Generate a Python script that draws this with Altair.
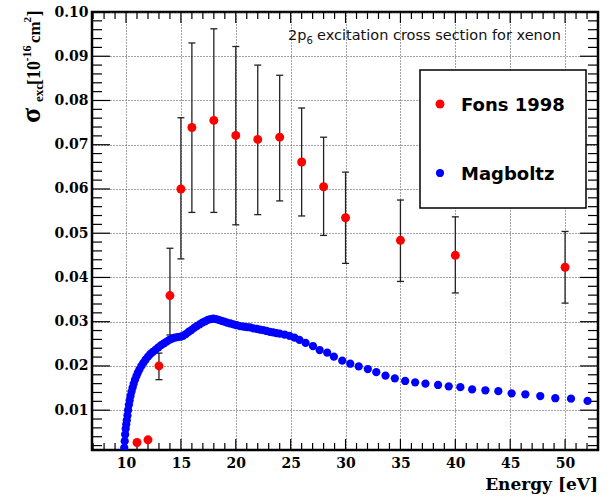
import altair as alt
import pandas as pd

# Fons 1998 measurements: energy [eV], cross section [1e-16 cm^2], error-bar ends
fons_energy = [11, 12, 13, 14, 15, 16, 18, 20, 22, 24, 26, 28, 30, 35, 40, 50]
fons_sigma = [0.0027, 0.0033, 0.0200, 0.0359, 0.0600, 0.0739, 0.0755, 0.0721,
              0.0712, 0.0717, 0.0661, 0.0605, 0.0535, 0.0484, 0.0450, 0.0423]
fons_low = [0.0027, 0.0033, 0.0169, 0.0270, 0.0442, 0.0547, 0.0547, 0.0519,
            0.0542, 0.0573, 0.0539, 0.0495, 0.0432, 0.0391, 0.0365, 0.0342]
fons_high = [0.0027, 0.0033, 0.0229, 0.0466, 0.0761, 0.0930, 0.0962, 0.0922,
             0.0880, 0.0857, 0.0783, 0.0717, 0.0638, 0.0575, 0.0537, 0.0504]

# Magboltz calculation
mag_energy = [9.80, 9.84, 9.88, 9.92, 9.97, 10.02, 10.07, 10.13, 10.19, 10.26,
              10.33, 10.41, 10.50, 10.60, 10.70, 10.82, 10.95, 11.08, 11.22, 11.40,
              11.58, 11.78, 12.00, 12.22, 12.45, 12.70, 12.95, 13.20, 13.45, 13.70,
              13.95, 14.20, 14.45, 14.70, 14.95, 15.20, 15.45, 15.70, 15.95, 16.20,
              16.45, 16.70, 16.95, 17.20, 17.45, 17.70, 17.95, 18.20, 18.45, 18.70,
              18.95, 19.20, 19.50, 19.80, 20.10, 20.40, 20.70, 21.00, 21.30, 21.60,
              21.90, 22.20, 22.50, 22.80, 23.10, 23.40, 23.70, 24.00, 24.45, 24.90,
              25.35, 25.80, 26.36, 27.03, 27.64, 28.33, 28.94, 29.70, 30.43, 31.20,
              32.03, 32.80, 33.64, 34.49, 35.43, 36.34, 37.28, 38.43, 39.40, 40.46,
              41.53, 42.74, 43.92, 45.13, 46.38, 47.74, 49.11, 50.54, 52.05]
mag_sigma = [0.0002, 0.0015, 0.0030, 0.0045, 0.0058, 0.0068, 0.0077, 0.0088, 0.0100, 0.0112,
             0.0122, 0.0132, 0.0142, 0.0151, 0.0160, 0.0169, 0.0177, 0.0185, 0.0192, 0.0200,
             0.0207, 0.0214, 0.0221, 0.0227, 0.0232, 0.0237, 0.0242, 0.0247, 0.0251, 0.0255,
             0.0259, 0.0262, 0.0264, 0.0265, 0.0266, 0.0268, 0.0272, 0.0277, 0.0281, 0.0286,
             0.0290, 0.0294, 0.0298, 0.0301, 0.0304, 0.0306, 0.0307, 0.0306, 0.0304, 0.0302,
             0.0300, 0.0298, 0.0296, 0.0294, 0.0292, 0.0290, 0.0289, 0.0288, 0.0287, 0.0285,
             0.0284, 0.0282, 0.0281, 0.0279, 0.0277, 0.0276, 0.0274, 0.0273, 0.0271, 0.0268,
             0.0264, 0.0259, 0.0252, 0.0245, 0.0236, 0.0230, 0.0221, 0.0212, 0.0205, 0.0199,
             0.0193, 0.0186, 0.0178, 0.0172, 0.0166, 0.0163, 0.0160, 0.0157, 0.0154, 0.0152,
             0.0147, 0.0145, 0.0143, 0.0138, 0.0136, 0.0132, 0.0127, 0.0126, 0.0121]

series_names = ["Fons 1998", "Magboltz"]
series_colors = ["#ff0000", "#0000ff"]

# axis ticks and labels
x_major = [10, 15, 20, 25, 30, 35, 40, 45, 50]
x_minor = [e for e in range(7, 53) if e % 5]
y_major = [0.01, 0.02, 0.03, 0.04, 0.05, 0.06, 0.07, 0.08, 0.09, 0.10]
y_minor = [round(0.002 * k, 3) for k in range(1, 50) if k % 5]

W, H = 506, 438

x_scale = alt.Scale(domain=[6.9, 53], nice=False, zero=False)
y_scale = alt.Scale(domain=[0.001, 0.1], nice=False, zero=False)

label_style = dict(labelFont="DejaVu Serif", labelFontWeight="bold", labelFontSize=14,
                   labelColor="black", ticks=False, domain=False, title=None,
                   grid=True, gridDash=[1, 2], gridColor="#444", gridWidth=1,
                   labelFlush=False, labelOverlap=False)
x_axis = alt.Axis(values=x_major, labelPadding=6, **label_style)
y_axis = alt.Axis(values=y_major, format=".2f", labelPadding=4, **label_style)


def X(field):
    return alt.X(f"{field}:Q", scale=x_scale, axis=x_axis)


def Y(field):
    return alt.Y(f"{field}:Q", scale=y_scale, axis=y_axis)


fons = pd.DataFrame({"E": fons_energy, "s": fons_sigma, "lo": fons_low, "hi": fons_high})
mag = pd.DataFrame({"E": mag_energy, "s": mag_sigma})
one = pd.DataFrame({"k": [0]})

# inward-pointing frame ticks on all four sides
def x_ticks(values, length):
    d = pd.DataFrame({"t": values})
    bottom = alt.Chart(d).mark_rule(color="black", strokeWidth=1.2).encode(
        x=X("t"), y=alt.value(H), y2=alt.value(H - length))
    top = alt.Chart(d).mark_rule(color="black", strokeWidth=1.2).encode(
        x=X("t"), y=alt.value(0), y2=alt.value(length))
    return [bottom, top]


def y_ticks(values, length):
    d = pd.DataFrame({"t": values})
    left = alt.Chart(d).mark_rule(color="black", strokeWidth=1.2).encode(
        y=Y("t"), x=alt.value(0), x2=alt.value(length))
    right = alt.Chart(d).mark_rule(color="black", strokeWidth=1.2).encode(
        y=Y("t"), x=alt.value(W), x2=alt.value(W - length))
    return [left, right]


ticks = x_ticks(x_major, 11) + x_ticks(x_minor, 7) + y_ticks(y_major, 18) + y_ticks(y_minor, 10)

err_bars = alt.Chart(fons).transform_filter("datum.hi > datum.lo").mark_rule(
    color="#222", strokeWidth=1.3, clip=True).encode(x=X("E"), y=Y("lo"), y2=alt.Y2("hi"))
cap_lo = alt.Chart(fons).transform_filter("datum.hi > datum.lo").mark_tick(
    orient="horizontal", size=7, thickness=1.3, color="#222", opacity=1, clip=True).encode(
    x=X("E"), y=Y("lo"))
cap_hi = alt.Chart(fons).transform_filter("datum.hi > datum.lo").mark_tick(
    orient="horizontal", size=7, thickness=1.3, color="#222", opacity=1, clip=True).encode(
    x=X("E"), y=Y("hi"))

mag_pts = alt.Chart(mag).mark_circle(size=68, color=series_colors[1], opacity=1, clip=True).encode(
    x=X("E"), y=Y("s"))
fons_pts = alt.Chart(fons).mark_circle(size=80, color=series_colors[0], opacity=1, clip=True).encode(
    x=X("E"), y=Y("s"))


def text_at(text, x, y, size, font="DejaVu Sans", weight="normal", angle=0,
            align="left", color="black"):
    return alt.Chart(one).mark_text(
        text=text, x=x, y=y, fontSize=size, font=font, fontWeight=weight,
        angle=angle, align=align, baseline="alphabetic", color=color)


# in-frame title: 2p_6 excitation cross section for xenon
title_parts = [
    text_at("2p", 196, 27.5, 14.5, color="#111"),
    text_at("6", 214.5, 31.5, 10, color="#111"),
    text_at("excitation cross section for xenon", 225, 27.5, 14.5, color="#111"),
]

# legend box
legend_box = alt.Chart(one).mark_rect(
    x=328, x2=494, y=58, y2=196, fill="white", stroke="black", strokeWidth=1.5)
legend_marks = [
    alt.Chart(one).mark_circle(x=348, y=92, size=80, color=series_colors[0], opacity=1),
    text_at(series_names[0], 369, 99, 18, weight="bold"),
    alt.Chart(one).mark_circle(x=348, y=161, size=68, color=series_colors[1], opacity=1),
    text_at(series_names[1], 369, 167.5, 18, weight="bold"),
]

# axis titles
serif = "Liberation Serif"
y_title = [
    text_at("σ", -52, 111, 28, font=serif, weight="bold", angle=270),
    text_at("exc", -49.5, 90, 13, font=serif, weight="bold", angle=270),
    text_at("[10", -52, 73, 18, font=serif, weight="bold", angle=270),
    text_at("-16", -61.5, 49.5, 12, font=serif, weight="bold", angle=270),
    text_at("cm", -52, 31, 17, font=serif, weight="bold", angle=270),
    text_at("2", -61.5, 10.5, 11, font=serif, weight="bold", angle=270),
    text_at("]", -52, 4.5, 18, font=serif, weight="bold", angle=270),
]
x_title = text_at("Energy [eV]", W, H + 40, 17, font="DejaVu Serif", weight="bold", align="right")

chart = alt.layer(
    *ticks, err_bars, cap_lo, cap_hi, mag_pts, fons_pts,
    *title_parts, legend_box, *legend_marks, *y_title, x_title,
).properties(
    width=W, height=H,
    autosize=alt.AutoSizeParams(type="none"),
    padding={"left": 92, "top": 12, "right": 13, "bottom": 47},
    background="white",
).configure_view(stroke="black", strokeWidth=2.5)

chart.save("out.html", embed_options={"renderer": "svg", "actions": False})
